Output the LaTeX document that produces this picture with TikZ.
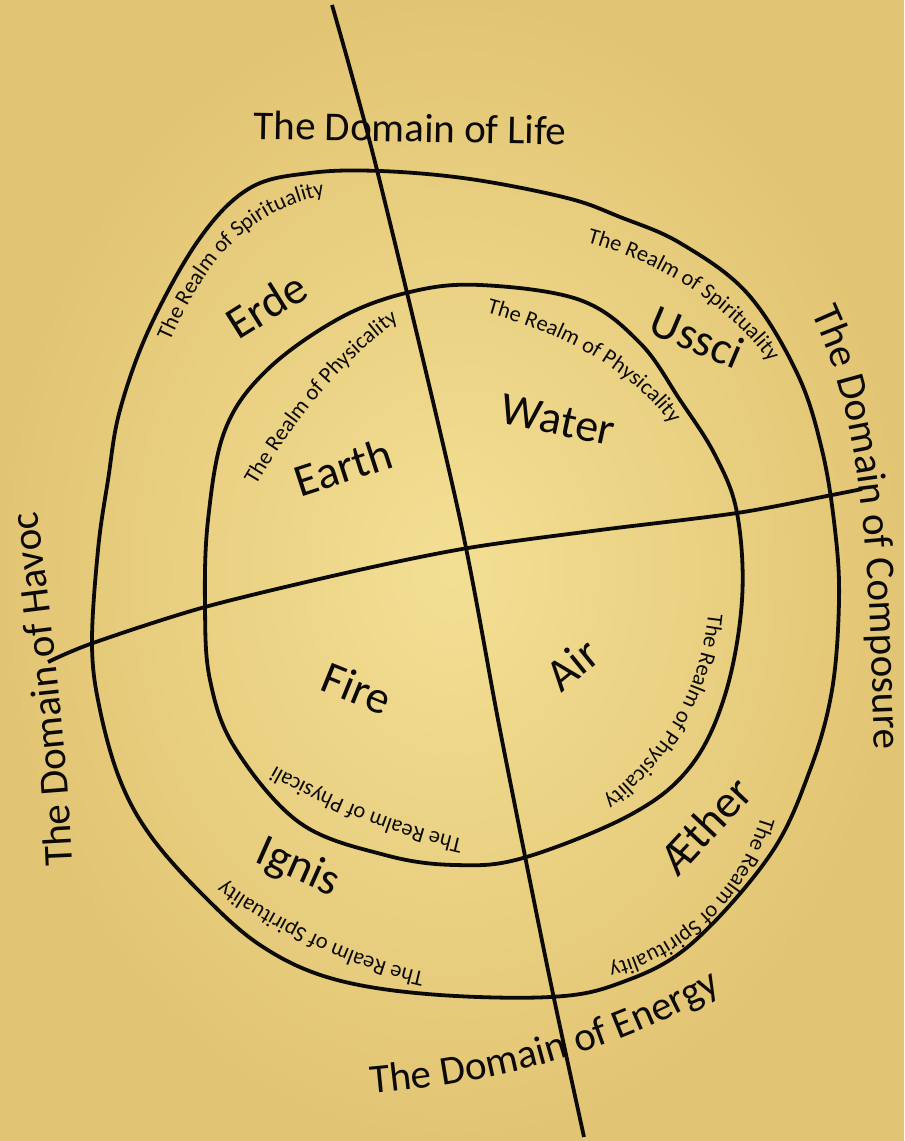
\documentclass[tikz,border=0pt]{standalone}
\usepackage{fontspec}
\setmainfont{Carlito}
\usetikzlibrary{decorations.text}
\newcommand\realmfont{\fontsize{5.6}{6.6}\selectfont}
\newcommand\domainfont{\fontsize{10.25}{12}\selectfont}
\newcommand\elemfont{\fontsize{11.5}{13.5}\selectfont}
\definecolor{parchin}{RGB}{243,223,148}
\definecolor{parchout}{RGB}{226,197,116}
\definecolor{ink}{RGB}{12,10,8}
\tikzset{
  ring/.style={draw=ink, line width=0.95pt, line join=round},
  axisline/.style={draw=ink, line width=0.95pt, line cap=butt},
  realm/.style={decorate, decoration={text along path, text align=center, text color=ink, text={|\realmfont|#1}}},
  domain/.style={decorate, decoration={text along path, text align=center, text color=ink, text={|\domainfont|#1}}},
  elem/.style={font=\elemfont, text=ink, inner sep=0pt},
  dom/.style={font=\domainfont, text=ink, inner sep=0pt}
}
\begin{document}
\begin{tikzpicture}[x=0.25pt,y=0.25pt]
\useasboundingbox (0,0) rectangle (904,-1141);
\fill[parchout] (0,0) rectangle (904,-1141);
\shade[inner color=parchin, outer color=parchout] (0,0) rectangle (904,-1141);

% outer ring
\draw[ring] plot[smooth cycle, tension=0.6] coordinates {
 (380,-171) (470,-179) (567,-198) (620,-217) (680,-243) (747,-293) (797,-373)
 (822,-450) (835,-530) (839,-600) (832,-690) (810,-770) (770,-855) (690,-945)
 (620,-983) (550,-997) (427,-994) (330,-978) (260,-945) (200,-892) (150,-835)
 (120,-780) (100,-710) (92,-645) (98,-550) (108,-480) (120,-410) (150,-327)
 (200,-238) (250,-188) (310,-173)};
% inner ring
\draw[ring] plot[smooth cycle, tension=0.6] coordinates {
 (410,-292) (480,-285) (580,-300) (640,-343) (680,-400) (715,-455) (737,-513)
 (742,-600) (725,-695) (690,-767) (630,-815) (523,-858) (455,-865) (385,-855)
 (300,-823) (235,-748) (210,-680) (205,-607) (208,-520) (225,-430) (267,-370)
 (340,-318)};
% axes
\draw[axisline] plot[smooth, tension=0.5] coordinates {
 (332,-5) (377,-170) (458,-510) (500,-730) (548,-970) (584,-1137)};
\draw[axisline] plot[smooth, tension=0.5] coordinates {
 (48,-662) (93,-643) (205,-607) (350,-572) (468,-548) (600,-530) (737,-513) (832,-495) (862,-489)};

% realm labels
\path[realm={The Realm of Spirituality}] (162,-360) .. controls (200,-268) and (245,-202) .. (345,-193);
\path[realm={The Realm of Spirituality}] (578,-240) .. controls (656,-259) and (730,-304) .. (775,-370);
\path[realm={The Realm of Physicality}] (480,-311) .. controls (555,-331) and (631,-366) .. (675,-430);
\path[realm={The Realm of Physicality}] (252,-492) .. controls (291,-425) and (340,-360) .. (405,-316);
\path[realm={The Realm of Physicality}] (709,-605) .. controls (702,-690) and (665,-752) .. (597,-805);
\path[realm={The Realm of Spirituality}] (764,-805) .. controls (744,-887) and (680,-952) .. (597,-967);
\path[realm={The Realm of Physicali}] (475,-842) .. controls (401,-826) and (329,-798) .. (265,-760);
\path[realm={The Realm of Spirituality}] (435,-975) .. controls (357,-959) and (280,-922) .. (215,-875);

% domain labels
\node[dom, rotate=-1, anchor=base] (life) at (410,-142) {The Domain of Life};
\path[domain={The Domain of Composure}] (808,-305) .. controls (874,-440) and (868,-608) .. (875,-758);
\path[domain={The Domain of Energy}] (368,-1094) .. controls (493,-1083) and (610,-1055) .. (725,-988);
\path[domain={The Domain of Havoc}] (73,-876) .. controls (69,-751) and (52,-625) .. (36,-501);

% element labels
\node[elem, rotate=32] (erde) at (266,-305) {Erde};
\node[elem, rotate=18] (earth) at (343,-467) {Earth};
\node[elem, rotate=-12] (water) at (558,-420) {Water};
\node[elem, rotate=-23] (ussci) at (697,-337) {Ussci};
\node[elem, rotate=-22] (fire) at (357,-688) {Fire};
\node[elem, rotate=39] (air) at (572,-664) {Air};
\node[elem, rotate=47] (aether) at (705,-825) {Æther};
\node[elem, rotate=-24] (ignis) at (298,-868) {Ignis};
\end{tikzpicture}
\end{document}
